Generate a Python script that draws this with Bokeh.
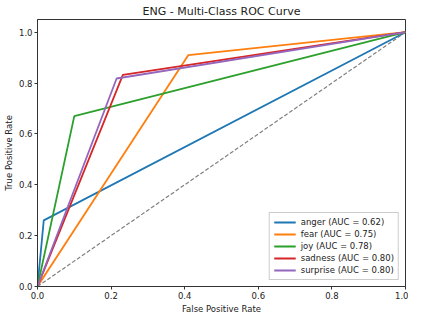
from bokeh.plotting import figure
from bokeh.embed import file_html
from bokeh.resources import INLINE
from bokeh.models import FixedTicker, PrintfTickFormatter, Range1d, Legend, LegendItem

classes = ["anger", "fear", "joy", "sadness", "surprise"]
aucs = [0.62, 0.75, 0.78, 0.80, 0.80]
fpr = {
    "anger": [0.0, 0.017, 1.0],
    "fear": [0.0, 0.41, 1.0],
    "joy": [0.0, 0.10, 1.0],
    "sadness": [0.0, 0.232, 1.0],
    "surprise": [0.0, 0.215, 1.0],
}
tpr = {
    "anger": [0.0, 0.26, 1.0],
    "fear": [0.0, 0.91, 1.0],
    "joy": [0.0, 0.67, 1.0],
    "sadness": [0.0, 0.832, 1.0],
    "surprise": [0.0, 0.818, 1.0],
}
colors = ["#1f77b4", "#ff7f0e", "#2ca02c", "#d62728", "#9467bd"]
diag = [0.0, 1.0]
ticks = [0.0, 0.2, 0.4, 0.6, 0.8, 1.0]

FONT = "DejaVu Sans"

p = figure(width=408, height=316, output_backend="svg", toolbar_location=None,
           x_range=Range1d(0, 1), y_range=Range1d(0, 1.05),
           title="ENG - Multi-Class ROC Curve",
           x_axis_label="False Positive Rate", y_axis_label="True Positive Rate",
           min_border_left=4, min_border_right=3, min_border_top=0, min_border_bottom=0)

p.title.align = "center"
p.title.text_font = FONT
p.title.text_font_size = "11px"
p.title.text_font_style = "normal"
p.title.text_color = "#222222"
p.title.standoff = 4

p.grid.visible = False
p.outline_line_color = "#333333"
p.outline_line_width = 1

for ax in (p.xaxis[0], p.yaxis[0]):
    ax.ticker = FixedTicker(ticks=ticks)
    ax.formatter = PrintfTickFormatter(format="%.1f")
    ax.minor_tick_line_color = None
    ax.major_tick_out = 3
    ax.major_tick_in = 0
    ax.major_label_text_font = FONT
    ax.major_label_text_font_size = "8.5px"
    ax.major_label_text_color = "#222222"
    ax.axis_label_text_font = FONT
    ax.axis_label_text_font_size = "8.5px"
    ax.axis_label_text_font_style = "normal"
    ax.axis_label_text_color = "#222222"
    ax.axis_line_color = "#333333"
    ax.major_tick_line_color = "#333333"
    ax.axis_label_standoff = 2
    ax.major_label_standoff = 2

items = []
for c, col, a in zip(classes, colors, aucs):
    r = p.line(fpr[c], tpr[c], line_color=col, line_width=1.8)
    items.append(LegendItem(label=f"{c} (AUC = {a:.2f})", renderers=[r]))

p.line(diag, diag, line_color="gray", line_dash="4 2", line_width=1.2)

legend = Legend(items=items, location="bottom_right")
legend.label_text_font = FONT
legend.label_text_font_size = "8.5px"
legend.label_text_color = "#222222"
legend.glyph_width = 22
legend.glyph_height = 10
legend.label_height = 10
legend.spacing = 2
legend.padding = 4
legend.margin = 6
legend.border_line_color = "#cccccc"
legend.border_line_alpha = 1
legend.background_fill_alpha = 0.8
p.add_layout(legend)

open("out.html", "w").write(file_html(p, INLINE))
